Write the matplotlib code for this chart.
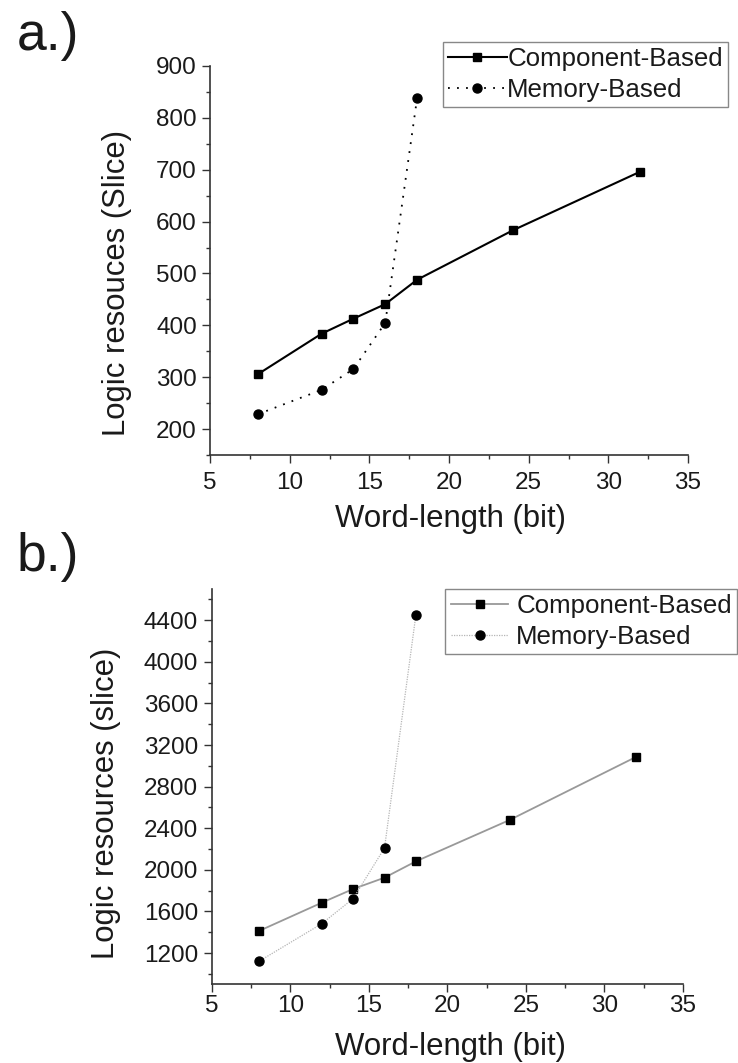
import numpy as np
import matplotlib
matplotlib.use("Agg")
from matplotlib import pyplot as plt
from matplotlib.ticker import MultipleLocator

plt.rcParams['font.family'] = ['Liberation Sans', 'DejaVu Sans']

# word-lengths (bit)
word_len = [8, 12, 14, 16, 18, 24, 32]
word_len_mem = [8, 12, 14, 16, 18]

# a.) logic resources (Slice)
comp_a = [306, 384, 413, 441, 488, 583, 696]
mem_a = [229, 276, 316, 405, 838]

# b.) logic resources (slice)
comp_b = [1412, 1684, 1816, 1925, 2082, 2482, 3085]
mem_b = [1120, 1482, 1723, 2210, 4454]

x_ticks = [5, 10, 15, 20, 25, 30, 35]
y_ticks_a = [200, 300, 400, 500, 600, 700, 800, 900]
y_ticks_b = [1200, 1600, 2000, 2400, 2800, 3200, 3600, 4000, 4400]

W, H = 738, 1063
txt = '#1a1a1a'

fig = plt.figure(figsize=(W / 100, H / 100), dpi=100)


def style_axes(ax, ylim, yticks, yminor, xpad, ypad):
    ax.set_xlim(5, 35)
    ax.set_ylim(*ylim)
    ax.set_xticks(x_ticks)
    ax.set_yticks(yticks)
    ax.xaxis.set_minor_locator(MultipleLocator(2.5))
    ax.yaxis.set_minor_locator(MultipleLocator(yminor))
    for s in ['top', 'right']:
        ax.spines[s].set_visible(False)
    for s in ['left', 'bottom']:
        ax.spines[s].set_color('#333333')
        ax.spines[s].set_linewidth(1.2)
    ax.tick_params(which='major', direction='out', length=5.8, width=1.0,
                   color='#333333', labelsize=17.5, labelcolor=txt)
    ax.tick_params(which='minor', direction='out', length=3, width=1.0,
                   color='#333333')
    ax.tick_params(axis='x', which='major', pad=xpad)
    ax.tick_params(axis='y', which='major', pad=ypad)


# ---- a.)
ax1 = fig.add_axes([210 / W, 1 - 455.3 / H, 478 / W, 389.6 / H])
ax1.plot(word_len, comp_a, color='black', lw=1.5, marker='s', ms=5.5,
         label='Component-Based')
ax1.plot(word_len_mem, mem_a, color='black', lw=1.3, ls=(0, (1, 4)),
         marker='o', ms=6.5, label='Memory-Based')
style_axes(ax1, (150, 900), y_ticks_a, 50, 6, 3.6)
ax1.set_xlabel('Word-length (bit)', fontsize=22.4, color=txt)
ax1.set_ylabel('Logic resouces (Slice)', fontsize=22.4, color=txt)
ax1.xaxis.set_label_coords(0.504, -0.125)
ax1.yaxis.set_label_coords(-0.163, 0.441)
leg1 = ax1.legend(loc='upper right', bbox_to_anchor=(728 / W, 1 - 42 / H),
                  bbox_transform=fig.transFigure, fontsize=18.6,
                  handlelength=2.3, handletextpad=0.0, borderpad=0.2,
                  labelspacing=0.25, borderaxespad=0, fancybox=False,
                  framealpha=1)
leg1.get_frame().set_edgecolor('#888888')
leg1.get_frame().set_linewidth(1.0)
for t in leg1.get_texts():
    t.set_color(txt)

# ---- b.)
ax2 = fig.add_axes([211.7 / W, 1 - 984.3 / H, 471.3 / W, 395.3 / H])
ax2.plot(word_len, comp_b, color='#999999', lw=1.3, marker='s', ms=5.5,
         mfc='black', mec='black', label='Component-Based')
ax2.plot(word_len_mem, mem_b, color='#b5b5b5', lw=0.9, ls=(0, (1, 1)),
         marker='o', ms=6.5, mfc='black', mec='black', label='Memory-Based')
style_axes(ax2, (900, 4700), y_ticks_b, 200, 2, 4)
ax2.set_xlabel('Word-length (bit)', fontsize=22.4, color=txt)
ax2.set_ylabel('Logic resources (slice)', fontsize=22.4, color=txt)
ax2.xaxis.set_label_coords(0.507, -0.1207)
ax2.yaxis.set_label_coords(-0.1925, 0.4586)
leg2 = ax2.legend(loc='upper right', bbox_to_anchor=(737 / W, 1 - 589 / H),
                  bbox_transform=fig.transFigure, fontsize=18.6,
                  handlelength=2.24, handletextpad=0.3, borderpad=0.2,
                  labelspacing=0.25, borderaxespad=0, fancybox=False,
                  framealpha=1)
leg2.get_frame().set_edgecolor('#888888')
leg2.get_frame().set_linewidth(1.0)
for t in leg2.get_texts():
    t.set_color(txt)

# panel letters
fig.text(17 / W, 1 - 50 / H, 'a.)', fontsize=38.5, color=txt, va='baseline')
fig.text(17 / W, 1 - 571 / H, 'b.)', fontsize=38.5, color=txt, va='baseline')

fig.savefig('out.png', dpi=100)
